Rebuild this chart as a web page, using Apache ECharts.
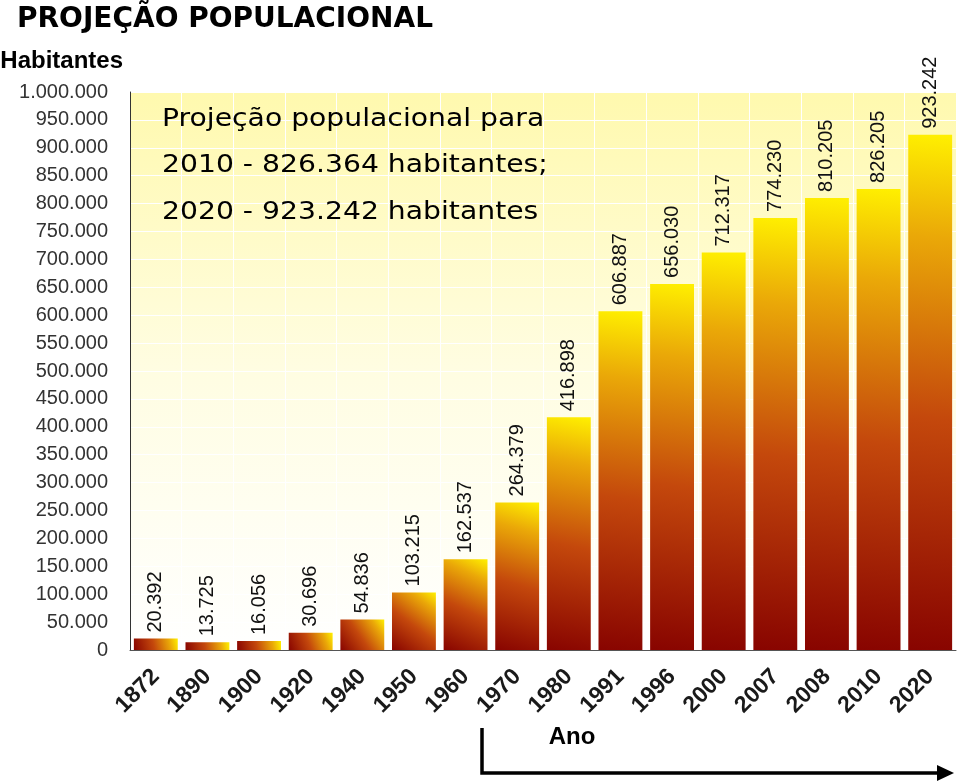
<!DOCTYPE html>
<html>
<head>
<meta charset="utf-8">
<script src="https://cdn.jsdelivr.net/npm/echarts@6/dist/echarts.min.js"></script>
<style>html,body{margin:0;padding:0;background:#fff}#c{width:959px;height:783px}</style>
</head>
<body>
<div id="c"></div>
<script>
const years = ['1872','1890','1900','1920','1940','1950','1960','1970','1980','1991','1996','2000','2007','2008','2010','2020'];
const population = [20392, 13725, 16056, 30696, 54836, 103215, 162537, 264379, 416898, 606887, 656030, 712317, 774230, 810205, 826205, 923242];
const noteLines = ['Projeção populacional para', '2010 - 826.364 habitantes;', '2020 - 923.242 habitantes'];
const chartTitle = 'PROJEÇÃO POPULACIONAL';
const yName = 'Habitantes';
const xName = 'Ano';

function fmt(v){ return String(v).replace(/\B(?=(\d{3})+(?!\d))/g, '.'); }

const chart = echarts.init(document.getElementById('c'), null, {renderer:'canvas'});
const barGrad = new echarts.graphic.LinearGradient(0, 1, 1, 0, [
  {offset:0, color:'#880400'},
  {offset:0.45, color:'#c4480c'},
  {offset:0.8, color:'#eaa808'},
  {offset:1, color:'#fff000'}
]);
const bgGrad = new echarts.graphic.LinearGradient(0, 0, 0, 1, [
  {offset:0, color:'#fff9ae'},
  {offset:0.5, color:'#fffde2'},
  {offset:1, color:'#ffffff'}
]);

const option = {
  animation:false,
  backgroundColor:'#ffffff',
  title:{
    text: chartTitle, left: 12, top: 1,
    textStyle:{fontFamily:'DejaVu Sans', fontWeight:'bold', fontSize:28, color:'#000'}
  },
  grid:{left:130, right:3, top:92, bottom:133, show:true, backgroundColor:bgGrad, borderWidth:0, containLabel:false, outerBoundsMode:'none'},
  xAxis:{
    type:'category', data: years,
    name: xName, nameLocation:'middle', nameGap:75,
    nameTextStyle:{fontFamily:'Liberation Sans', fontWeight:'bold', fontSize:24, color:'#000', padding:[0,0,0,58]},
    axisLine:{show:true, lineStyle:{color:'#555', width:1}},
    axisTick:{show:false},
    axisLabel:{rotate:45, margin:23, fontFamily:'Liberation Sans', fontWeight:'bold', fontSize:23, color:'#1a1a1a'},
    splitLine:{show:true, lineStyle:{color:'#ffffff', width:1}}
  },
  yAxis:{
    type:'value', min:0, max:1000000, interval:50000,
    name: yName, nameLocation:'end', nameGap:31,
    nameTextStyle:{fontFamily:'Liberation Sans', fontWeight:'bold', fontSize:24, color:'#000', align:'right', verticalAlign:'middle', padding:[0,7,0,0]},
    axisLine:{show:true, lineStyle:{color:'#333', width:1}},
    axisTick:{show:false},
    axisLabel:{margin:22, fontFamily:'Liberation Sans', fontSize:20, color:'#333', formatter: v => fmt(v)},
    splitLine:{show:true, lineStyle:{color:'#ffffff', width:1}}
  },
  series:[{
    type:'bar', data: population, barCategoryGap:'15%',
    itemStyle:{color: barGrad},
    label:{show:true, position:'top', rotate:90, align:'left', verticalAlign:'middle', distance:6,
      fontFamily:'Liberation Sans', fontSize:20, color:'#111', formatter: p => fmt(p.value)}
  }],
  graphic:[
    ...noteLines.map((t,i) => ({
      type:'text', x:162, y:119 + i*46.7, scaleX:1.13, scaleY:1, z:100,
      style:{text:t, x:0, y:0, fontFamily:'DejaVu Sans', fontSize:25, fill:'#000', textVerticalAlign:'middle', verticalAlign:'middle'}
    })),
    {type:'polyline', z:100, shape:{points:[[482,728],[482,773],[940,773]]}, style:{stroke:'#000', lineWidth:3.5, fill:null}},
    {type:'polygon', z:100, shape:{points:[[937,765],[954,773],[937,781]]}, style:{fill:'#000'}}
  ]
};
chart.setOption(option);
</script>
</body>
</html>
